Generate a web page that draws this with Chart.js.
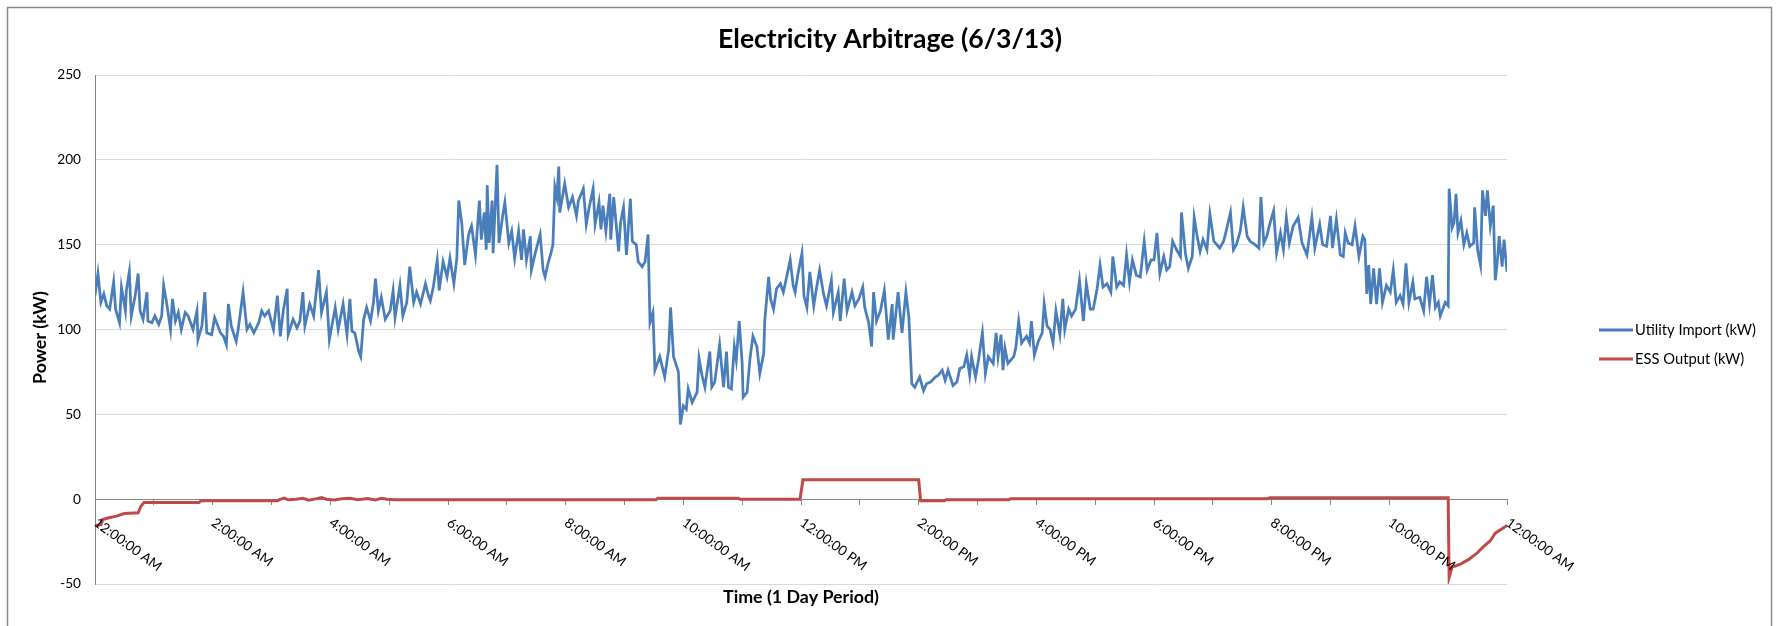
<!DOCTYPE html>
<html><head><meta charset="utf-8">
<script src="https://cdn.jsdelivr.net/npm/chart.js@4.4.0/dist/chart.umd.min.js"></script>
<style>html,body{margin:0;padding:0;background:#fff;overflow:hidden}</style>
</head><body>
<canvas id="c" width="1777" height="626"></canvas>
<script>
const chartTitle = 'Electricity Arbitrage (6/3/13)';
const xTitle = 'Time (1 Day Period)';
const yTitle = 'Power (kW)';
const seriesNames = ['Utility Import (kW)', 'ESS Output (kW)'];
const timeLabels = ['12:00:00 AM','2:00:00 AM','4:00:00 AM','6:00:00 AM','8:00:00 AM','10:00:00 AM','12:00:00 PM','2:00:00 PM','4:00:00 PM','6:00:00 PM','8:00:00 PM','10:00:00 PM','12:00:00 AM'];
const yTicks = [-50, 0, 50, 100, 150, 200, 250];

// minutes after midnight
const importMinutes = [0,3,6,9,12,15,19,21,25,27,31,32,35,37,41,44,46,49,53,54,58,61,65,68,70,73,77,79,82,85,88,92,95,100,104,105,109,112,114,119,122,128,131,134,136,139,144,146,151,155,158,162,167,170,173,177,182,186,189,192,196,197,202,206,209,212,214,219,223,228,231,236,239,245,248,253,257,260,262,265,269,271,274,277,281,284,286,289,292,296,301,304,306,311,314,318,321,325,328,332,337,340,342,345,349,351,355,359,362,366,369,371,374,377,381,384,388,392,394,397,399,400,402,405,406,410,412,416,418,422,425,428,432,435,437,440,444,445,449,454,457,459,462,465,467,469,471,473,474,479,483,487,491,493,498,501,504,508,510,514,516,518,521,525,526,529,534,536,539,542,546,548,552,554,558,561,564,566,569,571,576,581,585,587,590,595,597,600,603,605,609,614,616,619,622,627,629,632,637,641,644,646,649,652,654,657,660,661,665,668,671,675,678,682,683,687,689,692,695,699,702,705,709,712,714,717,721,723,726,729,733,736,739,743,746,751,753,758,760,764,767,772,775,779,783,785,789,792,794,797,801,805,809,813,814,819,823,827,830,833,836,841,845,848,852,857,860,864,867,870,875,879,882,886,889,892,894,898,901,905,908,911,916,919,921,924,926,928,931,937,939,942,945,950,953,955,958,962,966,968,971,974,977,980,984,987,989,993,996,1000,1004,1008,1011,1015,1018,1022,1025,1028,1032,1036,1038,1042,1045,1049,1052,1055,1058,1062,1066,1070,1073,1077,1080,1083,1086,1090,1093,1096,1099,1103,1107,1108,1112,1115,1119,1121,1124,1127,1130,1134,1137,1141,1144,1147,1151,1154,1158,1161,1164,1168,1171,1175,1178,1183,1187,1189,1192,1195,1198,1202,1205,1209,1212,1215,1218,1222,1227,1231,1236,1241,1244,1249,1252,1256,1260,1262,1266,1270,1273,1275,1278,1282,1285,1289,1293,1295,1297,1299,1301,1304,1307,1310,1313,1317,1321,1324,1327,1331,1334,1337,1340,1344,1346,1351,1355,1358,1361,1364,1367,1370,1372,1377,1380,1381,1384,1386,1388,1390,1393,1396,1399,1402,1406,1407,1410,1413,1415,1418,1420,1423,1426,1428,1430,1432,1435,1437,1440];
const importKW = [120,133,116,121,114,112,128,112,104,125,111,123,134,108,120,133,111,106,122,105,104,108,103,108,126,116,100,118,105,110,100,110,108,100,111,94,102,122,98,97,107,98,96,91,115,102,93,100,122,100,103,98,104,111,108,111,100,120,96,111,124,97,106,101,105,122,102,115,108,135,110,122,94,113,100,115,97,118,99,98,87,84,106,113,105,116,130,111,119,106,111,123,107,126,108,116,137,116,122,115,127,120,117,125,141,123,140,131,142,127,142,176,163,138,156,161,144,176,153,169,147,185,151,176,145,197,151,168,175,151,158,142,158,141,159,141,155,135,145,156,135,131,139,145,150,184,178,196,169,186,172,178,167,176,183,162,172,183,162,175,159,173,158,180,153,178,146,163,172,144,177,152,150,140,137,140,156,104,110,76,84,72,88,113,84,75,44,55,53,65,57,63,83,73,66,87,66,69,91,66,87,66,65,90,82,105,80,60,63,83,96,90,74,86,105,131,118,112,124,127,122,130,141,126,122,133,145,120,113,134,114,125,135,121,114,129,110,122,105,130,111,122,114,118,125,113,104,90,122,105,111,123,94,115,94,122,98,122,107,68,66,72,64,68,69,72,73,76,70,76,67,69,77,78,85,73,84,72,82,98,74,84,80,98,84,97,76,89,80,84,89,105,92,96,92,105,85,93,98,115,102,100,92,111,97,118,100,112,108,112,129,105,127,112,112,124,138,125,127,122,143,125,128,126,144,128,141,132,131,152,135,141,141,157,133,143,135,137,152,147,143,169,145,136,143,166,155,146,153,147,168,152,150,148,152,159,169,147,150,158,172,155,152,150,148,178,151,155,162,170,145,157,147,166,151,161,166,151,144,166,148,162,150,149,167,148,165,144,143,157,151,150,161,143,155,153,121,138,115,136,115,136,116,126,122,135,116,120,115,139,116,128,118,119,111,131,115,132,113,116,108,116,114,183,160,163,180,157,164,150,157,149,151,172,147,138,182,167,182,161,173,129,139,155,137,153,134];

const essMinutes = [0,6,8,14,22,30,44,47,50,106,108,186,188,193,197,205,212,218,226,231,236,244,252,260,268,278,286,292,298,305,572,574,656,658,719,722,840,842,866,868,932,934,1196,1198,1380,1381,1384,1392,1401,1409,1416,1423,1428,1435,1440];
const essKW = [-15.5,-15,-12,-11,-10,-8.5,-8,-4,-2,-2,-1,-1,-0.3,0.6,-0.4,0,0.5,-0.6,0.3,1,0,-0.5,0.3,0.5,-0.3,0.4,-0.5,0.5,0,-0.3,-0.3,0.5,0.5,0,0,11.4,11.4,-1,-1,-0.3,-0.3,0.3,0.3,0.8,0.8,-46,-40,-38.5,-35.5,-32,-28,-24.5,-20,-17.5,-15.5];

const FONT = 'Lato, "Open Sans", "Liberation Sans", sans-serif';
const AXIS_GRAY = '#868686';

// choose font sizes so that text widths match the reference
const mctx = document.createElement('canvas').getContext('2d');
function fitSize(text, weight, targetWidth) {
  mctx.font = weight + ' 100px ' + FONT;
  return 100 * targetWidth / mctx.measureText(text).width;
}
const titleSize = fitSize(chartTitle, 'bold', 344);
const axisTitleSize = fitSize(xTitle, 'bold', 156);
const legendSize = fitSize(seriesNames[0], 'normal', 121);
const tickSize = fitSize('250', 'normal', 23.8);
const LABEL_ANGLE = 36 * Math.PI / 180;

const decor = {
  id: 'decor',
  afterDraw(chart) {
    const ctx = chart.ctx;
    const xs = chart.scales.x, ys = chart.scales.y;
    const ca = chart.chartArea;
    ctx.save();
    // outer frame
    ctx.strokeStyle = '#8a8a8a';
    ctx.lineWidth = 1.5;
    ctx.strokeRect(7.5, 7.5, 1764, 700);
    // title
    ctx.fillStyle = '#000';
    ctx.textAlign = 'center';
    ctx.textBaseline = 'middle';
    ctx.font = 'bold ' + titleSize + 'px ' + FONT;
    ctx.fillText(chartTitle, 890, 39);
    // axis titles
    ctx.font = 'bold ' + axisTitleSize + 'px ' + FONT;
    ctx.fillText(xTitle, (ca.left + ca.right) / 2, 597);
    ctx.save();
    ctx.translate(40, (ca.top + ca.bottom) / 2 + 8);
    ctx.rotate(-Math.PI / 2);
    ctx.fillText(yTitle, 0, 0);
    ctx.restore();
    // x tick labels, rotated clockwise
    ctx.font = tickSize + 'px ' + FONT;
    ctx.textAlign = 'left';
    ctx.textBaseline = 'middle';
    const y0 = ys.getPixelForValue(0);
    timeLabels.forEach((lab, i) => {
      const px = xs.getPixelForValue(i * 120);
      ctx.save();
      ctx.translate(px + 0.5, y0 + 22);
      ctx.rotate(LABEL_ANGLE);
      ctx.fillText(lab, 0, 0);
      ctx.restore();
    });
    // legend
    const legY = [330, 359];
    chart.data.datasets.forEach((ds, i) => {
      ctx.strokeStyle = ds.borderColor;
      ctx.lineWidth = 3;
      ctx.beginPath();
      ctx.moveTo(1599, legY[i]);
      ctx.lineTo(1633, legY[i]);
      ctx.stroke();
      ctx.fillStyle = '#000';
      ctx.font = legendSize + 'px ' + FONT;
      ctx.fillText(ds.label, 1635, legY[i]);
    });
    ctx.restore();
  }
};

new Chart(document.getElementById('c').getContext('2d'), {
  type: 'line',
  data: {
    datasets: [
      { label: seriesNames[0], data: importMinutes.map((m, i) => ({ x: m, y: importKW[i] })),
        borderColor: '#4a7ebb', borderWidth: 2.75, pointRadius: 0, tension: 0, fill: false },
      { label: seriesNames[1], data: essMinutes.map((m, i) => ({ x: m, y: essKW[i] })),
        borderColor: '#be4b48', borderWidth: 3, pointRadius: 0, tension: 0, fill: false }
    ]
  },
  options: {
    responsive: false, animation: false, devicePixelRatio: 1,
    layout: { padding: { left: 7, right: 270, top: 75, bottom: 42 } },
    plugins: { legend: { display: false }, title: { display: false }, tooltip: { enabled: false } },
    scales: {
      x: {
        type: 'linear', min: 0, max: 1440, position: { y: 0 },
        ticks: { display: false, stepSize: 60, autoSkip: false },
        grid: { drawOnChartArea: false, drawTicks: true, tickLength: 5, color: AXIS_GRAY },
        border: { display: true, color: AXIS_GRAY, width: 1 }
      },
      y: {
        type: 'linear', min: -50, max: 250, position: 'left',
        afterBuildTicks: s => { s.ticks = yTicks.map(v => ({ value: v })); },
        afterFit: s => { s.width = 88; },
        ticks: { font: { family: FONT, size: tickSize }, color: '#000', padding: 14 },
        grid: { color: '#d9d9d9', drawTicks: false, lineWidth: 1 },
        border: { color: AXIS_GRAY, width: 1 }
      }
    }
  },
  plugins: [decor]
});
</script>
</body></html>
